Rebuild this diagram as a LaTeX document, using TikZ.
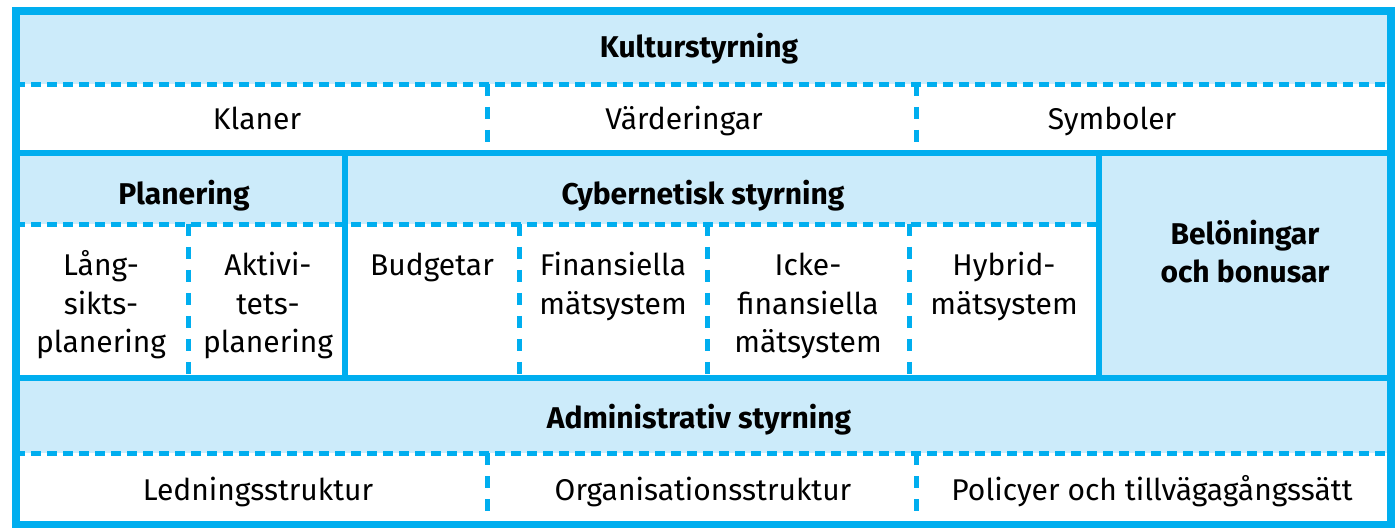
\documentclass[tikz,border=0pt]{standalone}
\usepackage{fontspec}
\setmainfont{Fira Sans}
\definecolor{lineblue}{HTML}{00AEEF}
\definecolor{fillblue}{HTML}{CCEBFA}
\begin{document}
\begin{tikzpicture}[x=0.5pt,y=-0.5pt,
  solidline/.style={draw=lineblue,line width=3pt},
  outerline/.style={draw=lineblue,line width=4pt},
  hdash/.style={draw=lineblue,line width=2.5pt,dash pattern=on 5pt off 3pt},
  vdash/.style={draw=lineblue,line width=2.5pt,dash pattern=on 6pt off 5.5pt},
  txt/.style={font=\fontsize{15}{19}\selectfont, anchor=base, inner sep=0pt},
  hdr/.style={font=\fontsize{15}{19}\selectfont\bfseries, anchor=base, inner sep=0pt},
]
\useasboundingbox (0,0) rectangle (1395,528);
\fill[white] (0,0) rectangle (1395,528);
% fills
\fill[fillblue] (15,12) rectangle (1391,84);
\fill[fillblue] (15,153) rectangle (1099,224);
\fill[fillblue] (1099,153) rectangle (1391,378);
\fill[fillblue] (15,378) rectangle (1391,453);
% dashed horizontals
\draw[hdash] (15,84.5) -- (1391,84.5);
\draw[hdash] (15,224.5) -- (1099,224.5);
\draw[hdash] (15,453) -- (1391,453);
% dashed verticals
\draw[vdash] (487,84) -- (487,153);
\draw[vdash] (916,84) -- (916,153);
\draw[vdash] (188,224) -- (188,378);
\draw[vdash] (519,224) -- (519,378);
\draw[vdash] (707,224) -- (707,378);
\draw[vdash] (909,224) -- (909,378);
\draw[vdash] (487,453) -- (487,524);
\draw[vdash] (916,453) -- (916,524);
% solid lines
\draw[solidline] (15,153) -- (1391,153);
\draw[solidline] (15,378) -- (1391,378);
\draw[solidline] (345,153) -- (345,378);
\draw[solidline] (1099,153) -- (1099,378);
\draw[outerline] (15.5,11.5) rectangle (1391,524.5);
% texts
\node[hdr] (kultur) at (699,58) {Kulturstyrning};
\node[txt] (klaner) at (257,130) {Klaner};
\node[txt] (varder) at (684,130) {Värderingar};
\node[txt] (symbol) at (1112,130) {Symboler};
\node[hdr] (planer) at (184,205) {Planering};
\node[hdr] (cyber) at (703,205) {Cybernetisk styrning};
\node[txt] (langa) at (101,276) {Lång-};
\node[txt] (langb) at (101,315) {sikts-};
\node[txt] (langc) at (101,353) {planering};
\node[txt] (akta) at (268,276) {Aktivi-};
\node[txt] (aktb) at (268,315) {tets-};
\node[txt] (aktc) at (268,353) {planering};
\node[txt] (budget) at (432,276) {Budgetar};
\node[txt] (fina) at (613,276) {Finansiella};
\node[txt] (finb) at (613,315) {mätsystem};
\node[txt] (ickea) at (808,276) {Icke-};
\node[txt] (ickeb) at (808,315) {finansiella};
\node[txt] (ickec) at (808,353) {mätsystem};
\node[txt] (hyba) at (1004,276) {Hybrid-};
\node[txt] (hybb) at (1004,315) {mätsystem};
\node[hdr] (belona) at (1245,245) {Belöningar};
\node[hdr] (belonb) at (1245,283) {och bonusar};
\node[hdr] (admin) at (699,429) {Administrativ styrning};
\node[txt] (ledn) at (258,500) {Ledningsstruktur};
\node[txt] (organ) at (703,500) {Organisationsstruktur};
\node[txt] (polic) at (1152,500) {Policyer och tillvägagångssätt};
\end{tikzpicture}
\end{document}
